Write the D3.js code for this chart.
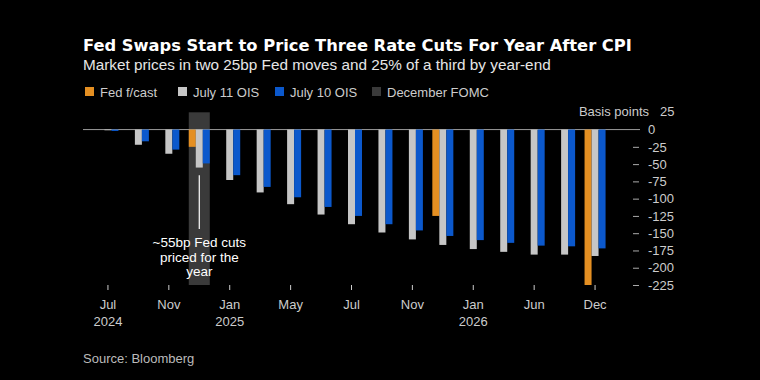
<!DOCTYPE html>
<html>
  <head>
    <meta http-equiv="Content-Type" content="text/html;charset=utf-8"/>
    <title>Fed swaps</title>
    <script src="https://d3js.org/d3.v7.min.js"></script>
    <style>
      html, body { margin: 0; padding: 0; background: #000; }
      svg { display: block; font-family: "Liberation Sans", Arial, sans-serif; }
    </style>
  </head>
  <body>
    <div id="chart"></div>
    <script type="text/javascript">

      // FOMC meetings
      const meetings = ["Jul 2024", "Sep 2024", "Nov 2024", "Dec 2024", "Jan 2025", "Mar 2025",
                        "May 2025", "Jun 2025", "Jul 2025", "Sep 2025", "Nov 2025", "Dec 2025",
                        "Jan 2026", "Apr 2026", "Jun 2026", "Sep 2026", "Dec 2026"]
      const fedForecast = [null, null, null, -25, null, null, null, null, null, null, null, -125,
                           null, null, null, null, -225]
      const july11 = [-1, -22, -35, -55, -73, -91, -108, -123, -137, -149, -159, -167, -173, -177, -181, -181, -183]
      const july10 = [-2, -17, -29, -49, -66, -83, -98, -112, -125, -137, -146, -154, -160, -164, -168, -169, -172]
      const tickMeetings = ["Jul 2024", "Nov 2024", "Jan 2025", "May 2025", "Jul 2025", "Nov 2025",
                            "Jan 2026", "Jun 2026", "Dec 2026"]
      const yTicks = [25, 0, -25, -50, -75, -100, -125, -150, -175, -200, -225]
      const shaded = "Dec 2024"

      const seriesNames = ["Fed f/cast", "July 11 OIS", "July 10 OIS"]
      const colors = { "Fed f/cast": "#e48f22", "July 11 OIS": "#c6c6c6", "July 10 OIS": "#0b58cc" }
      const shadeColor = "#3a3a3a"

      const width = 760, height = 380

      const svg = d3.select('#chart').append('svg').attr('width', width).attr('height', height)
      svg.append('rect').attr('width', width).attr('height', height).attr('fill', '#000')

      // titles
      svg.append('text').attr('x', 83).attr('y', 51)
        .attr('fill', '#fff').attr('font-weight', 'bold').attr('font-size', 16.3)
        .attr('font-family', '"DejaVu Sans", sans-serif')
        .text('Fed Swaps Start to Price Three Rate Cuts For Year After CPI')
      svg.append('text').attr('x', 83).attr('y', 70)
        .attr('fill', '#e6e6e6').attr('font-size', 15.3)
        .text('Market prices in two 25bp Fed moves and 25% of a third by year-end')

      // legend
      const legendItems = [
        { name: "Fed f/cast", color: colors["Fed f/cast"], x: 85 },
        { name: "July 11 OIS", color: colors["July 11 OIS"], x: 178 },
        { name: "July 10 OIS", color: colors["July 10 OIS"], x: 275 },
        { name: "December FOMC", color: shadeColor, x: 372 }
      ]
      const lg = svg.append('g').selectAll('g').data(legendItems).enter().append('g')
        .attr('transform', d => 'translate(' + d.x + ',87)')
      lg.append('rect').attr('width', 9).attr('height', 9).attr('fill', d => d.color)
      lg.append('text').attr('x', 15).attr('y', 9.5).attr('fill', '#ccc').attr('font-size', 13)
        .text(d => d.name)

      // scales
      const x = d3.scaleBand().domain(meetings).range([88, 615]).paddingInner(0.31).paddingOuter(0.31)
      const xInner = d3.scaleBand().domain(seriesNames).range([0, x.bandwidth()])
      const y = d3.scaleLinear().domain([-225, 25]).range([285, 112.3])

      // December FOMC shading
      svg.append('rect')
        .attr('x', x(shaded)).attr('width', x.bandwidth())
        .attr('y', y(25)).attr('height', y(-225) - y(25))
        .attr('fill', shadeColor)

      // zero line
      svg.append('line').attr('x1', 83).attr('x2', 640).attr('y1', y(0)).attr('y2', y(0))
        .attr('stroke', '#9a9a9a').attr('stroke-width', 1)

      // bars
      const rows = meetings.map((m, i) => ({
        meeting: m,
        values: [
          { key: "Fed f/cast", value: fedForecast[i] },
          { key: "July 11 OIS", value: july11[i] },
          { key: "July 10 OIS", value: july10[i] }
        ].filter(v => v.value !== null)
      }))

      svg.append('g').selectAll('g').data(rows).enter().append('g')
        .attr('transform', d => 'translate(' + x(d.meeting) + ',0)')
        .selectAll('rect').data(d => d.values).enter().append('rect')
        .attr('x', d => xInner(d.key))
        .attr('width', xInner.bandwidth())
        .attr('y', y(0))
        .attr('height', d => y(d.value) - y(0))
        .attr('fill', d => colors[d.key])

      // annotation
      const annX = x(shaded) + xInner("July 11 OIS") + xInner.bandwidth() / 2
      svg.append('line').attr('x1', annX).attr('x2', annX).attr('y1', y(-66)).attr('y2', y(-144))
        .attr('stroke', '#fff').attr('stroke-width', 1.2)
      const annText = svg.append('text').attr('x', annX).attr('y', 247)
        .attr('text-anchor', 'middle').attr('fill', '#fff').attr('font-size', 13.5)
      const annLines = ['~55bp Fed cuts', 'priced for the', 'year']
      annLines.forEach((t, i) => {
        annText.append('tspan').attr('x', annX).attr('dy', i === 0 ? 0 : 14.5).text(t)
      })

      // y axis
      const yAxis = d3.axisRight(y).tickValues(yTicks.filter(d => d !== 25)).tickSize(6).tickPadding(9)
        .tickFormat(d => d)
      const yg = svg.append('g').attr('transform', 'translate(633,0)').call(yAxis)
      yg.select('.domain').remove()
      yg.selectAll('text').attr('fill', '#ccc').attr('font-size', 13)
        .attr('font-family', '"Liberation Sans", Arial, sans-serif')
      yg.selectAll('line').attr('stroke', '#aaa').attr('opacity', d => d === 0 ? 0 : 1)
      svg.append('text').attr('x', 660).attr('y', y(25)).attr('dy', '0.32em')
        .attr('fill', '#ccc').attr('font-size', 13).text(yTicks[0])
      svg.append('text').attr('x', 649).attr('y', y(25)).attr('dy', '0.32em')
        .attr('text-anchor', 'end').attr('fill', '#ccc').attr('font-size', 13).text('Basis points')

      // x axis
      const xAxis = d3.axisBottom(x).tickValues(tickMeetings).tickSize(5).tickPadding(10)
        .tickFormat(d => d.split(' ')[0])
      const xg = svg.append('g').attr('transform', 'translate(' + (xInner("July 11 OIS") + xInner.bandwidth() / 2 - x.bandwidth() / 2) + ',285)').call(xAxis)
      xg.select('.domain').remove()
      xg.selectAll('line').attr('stroke', '#ccc')
      xg.selectAll('text').attr('fill', '#ccc').attr('font-size', 13)
        .attr('font-family', '"Liberation Sans", Arial, sans-serif')
      xg.selectAll('.tick').each(function(d, i) {
        const parts = d.split(' ')
        if (i === 0 || parts[0] === 'Jan') {
          d3.select(this).append('text').attr('y', 41).attr('fill', '#ccc').attr('font-size', 13)
            .attr('text-anchor', 'middle')
            .attr('font-family', '"Liberation Sans", Arial, sans-serif')
            .text(parts[1])
        }
      })

      // source
      svg.append('text').attr('x', 83).attr('y', 363).attr('fill', '#bbb').attr('font-size', 13)
        .text('Source: Bloomberg')

    </script>
  </body>
</html>
